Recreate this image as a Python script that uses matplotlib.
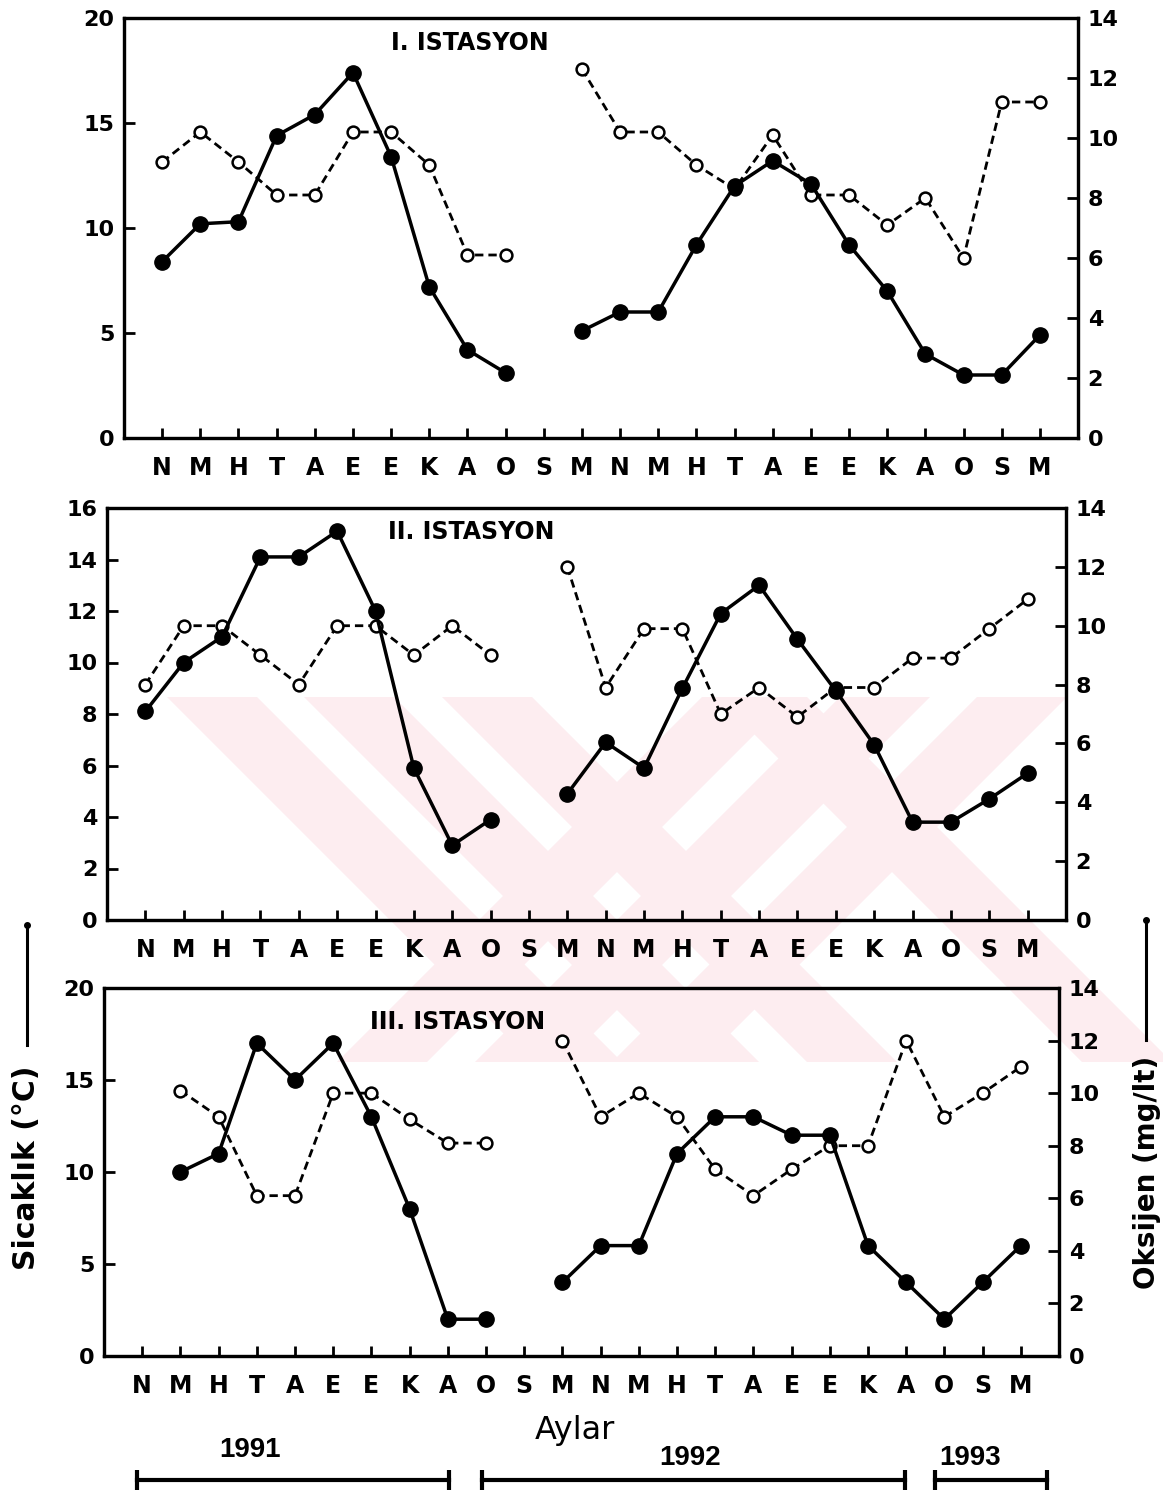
import numpy as np
import matplotlib
matplotlib.use("Agg")
import matplotlib.pyplot as plt
from matplotlib.lines import Line2D
from matplotlib.patches import Polygon

nan = np.nan

# month initials, Nov 1991 -> Mar 1993 (S = sampling gap)
months = ["N", "M", "H", "T", "A", "E", "E", "K", "A", "O", "S", "M",
          "N", "M", "H", "T", "A", "E", "E", "K", "A", "O", "S", "M"]

# I. istasyon
temp_1 = [8.4, 10.2, 10.3, 14.4, 15.4, 17.4, 13.4, 7.2, 4.2, 3.1, nan, 5.1,
          6.0, 6.0, 9.2, 12.0, 13.2, 12.1, 9.2, 7.0, 4.0, 3.0, 3.0, 4.9]
oxy_1 = [9.2, 10.2, 9.2, 8.1, 8.1, 10.2, 10.2, 9.1, 6.1, 6.1, nan, 12.3,
         10.2, 10.2, 9.1, 8.3, 10.1, 8.1, 8.1, 7.1, 8.0, 6.0, 11.2, 11.2]

# II. istasyon
temp_2 = [8.1, 10.0, 11.0, 14.1, 14.1, 15.1, 12.0, 5.9, 2.9, 3.9, nan, 4.9,
          6.9, 5.9, 9.0, 11.9, 13.0, 10.9, 8.9, 6.8, 3.8, 3.8, 4.7, 5.7]
oxy_2 = [8.0, 10.0, 10.0, 9.0, 8.0, 10.0, 10.0, 9.0, 10.0, 9.0, nan, 12.0,
         7.9, 9.9, 9.9, 7.0, 7.9, 6.9, 7.9, 7.9, 8.9, 8.9, 9.9, 10.9]

# III. istasyon
temp_3 = [nan, 10.0, 11.0, 17.0, 15.0, 17.0, 13.0, 8.0, 2.0, 2.0, nan, 4.0,
          6.0, 6.0, 11.0, 13.0, 13.0, 12.0, 12.0, 6.0, 4.0, 2.0, 4.0, 6.0]
oxy_3 = [nan, 10.1, 9.1, 6.1, 6.1, 10.0, 10.0, 9.0, 8.1, 8.1, nan, 12.0,
         9.1, 10.0, 9.1, 7.1, 6.1, 7.1, 8.0, 8.0, 12.0, 9.1, 10.0, 11.0]

titles = ["I. ISTASYON", "II. ISTASYON", "III. ISTASYON"]
years = ["1991", "1992", "1993"]

W, H = 1163, 1494
FONT = "DejaVu Sans"

fig = plt.figure(figsize=(W / 100, H / 100), dpi=100)


def px_rect(l, t, r, b):
    return [l / W, 1 - b / H, (r - l) / W, (b - t) / H]


def fx(px):
    return px / W


def fy(py):
    return 1 - py / H


# faint pink stamp across the lower half (diagonal bands)
stamp_col = "#fdedf0"
band_top, band_bot, band_w = 697, 1062, 90
drop = band_bot - band_top
for x0 in [167, 304, 442, 717]:
    pts = [(x0, band_top), (x0 + band_w, band_top),
           (x0 + band_w + drop, band_bot), (x0 + drop, band_bot)]
    fig.add_artist(Polygon([(fx(a), fy(b)) for a, b in pts], closed=True,
                           transform=fig.transFigure, facecolor=stamp_col,
                           edgecolor="none", zorder=-1))
for x0 in [702, 840, 977]:
    pts = [(x0, band_top), (x0 + band_w, band_top),
           (x0 + band_w - drop, band_bot), (x0 - drop, band_bot)]
    fig.add_artist(Polygon([(fx(a), fy(b)) for a, b in pts], closed=True,
                           transform=fig.transFigure, facecolor=stamp_col,
                           edgecolor="none", zorder=-1))

panels = [
    dict(rect=(124, 18, 1078, 438), temp=temp_1, oxy=oxy_1, ymax=20, ystep=5,
         title_xy=(0.362, 0.94)),
    dict(rect=(107, 508, 1066, 920), temp=temp_2, oxy=oxy_2, ymax=16, ystep=2,
         title_xy=(0.38, 0.942)),
    dict(rect=(104, 988, 1059, 1356), temp=temp_3, oxy=oxy_3, ymax=20, ystep=5,
         title_xy=(0.37, 0.908)),
]

x = np.arange(len(months))

for i, p in enumerate(panels):
    ax = fig.add_axes(px_rect(*p["rect"]))
    ax2 = ax.twinx()
    # keep temperature (filled) above oxygen (open)
    ax.set_zorder(ax2.get_zorder() + 1)
    ax.patch.set_visible(False)
    ax2.patch.set_visible(False)

    ax2.plot(x, np.array(p["oxy"], dtype=float), color="black", lw=2,
             dashes=(3, 1.8), marker="o", ms=8.5, mfc="white", mec="black",
             mew=1.8)
    ax.plot(x, np.array(p["temp"], dtype=float), color="black", lw=2.5,
            marker="o", ms=11, mfc="black", mec="black")

    ax.set_xlim(-1, 24)
    ax.set_ylim(0, p["ymax"])
    ax2.set_ylim(0, 14)
    ax.set_yticks(np.arange(0, p["ymax"] + 0.1, p["ystep"]))
    ax2.set_yticks(np.arange(0, 15, 2))
    ax.set_xticks(x)
    ax.set_xticklabels(months)

    ax.tick_params(axis="x", direction="in", length=7, width=2, pad=13,
                   labelsize=17)
    ax.tick_params(axis="y", direction="in", length=8, width=2, pad=7,
                   labelsize=16)
    ax2.tick_params(axis="y", direction="in", length=8, width=2, pad=7,
                    labelsize=16)
    for a in (ax, ax2):
        for sp in a.spines.values():
            sp.set_linewidth(2.3)
        for lab in a.get_xticklabels() + a.get_yticklabels():
            lab.set_fontfamily(FONT)
            lab.set_fontweight("bold")

    ax.text(p["title_xy"][0], p["title_xy"][1], titles[i], transform=ax.transAxes,
            ha="center", va="center", fontsize=17, fontweight="bold",
            family=FONT)

# axis captions
fig.text(fx(575), fy(1430), "Aylar", ha="center", va="center",
         fontsize=23, family=FONT)
fig.text(fx(27), fy(1168), "Sicaklık (°C)", rotation=90, ha="center",
         va="center", fontsize=21.5, fontweight="bold", family=FONT)
fig.text(fx(1147), fy(1172), "Oksijen (mg/lt)", rotation=90, ha="center",
         va="center", fontsize=20, fontweight="bold", family=FONT)

# line-style keys next to the captions
fig.add_artist(Line2D([fx(27), fx(27)], [fy(925), fy(1045)],
                      transform=fig.transFigure, color="black", lw=2.2,
                      marker="o", ms=4, markevery=[0]))
fig.add_artist(Line2D([fx(1146), fx(1146)], [fy(920), fy(1040)],
                      transform=fig.transFigure, color="black", lw=2.2,
                      marker="o", ms=4, markevery=[0]))

# year spans under the month axis
year_spans = [(137, 449, 250, 1450), (482, 905, 690, 1458), (935, 1047, 970, 1458)]
for yr, (x0, x1, tx, ty) in zip(years, year_spans):
    fig.add_artist(Line2D([fx(x0), fx(x1)], [fy(1480), fy(1480)],
                          transform=fig.transFigure, color="black", lw=3,
                          marker="|", ms=14, mew=3))
    fig.text(fx(tx), fy(ty), yr, ha="center", va="center", fontsize=20,
             fontweight="bold", family="Liberation Sans")

fig.savefig("out.png", dpi=100)
